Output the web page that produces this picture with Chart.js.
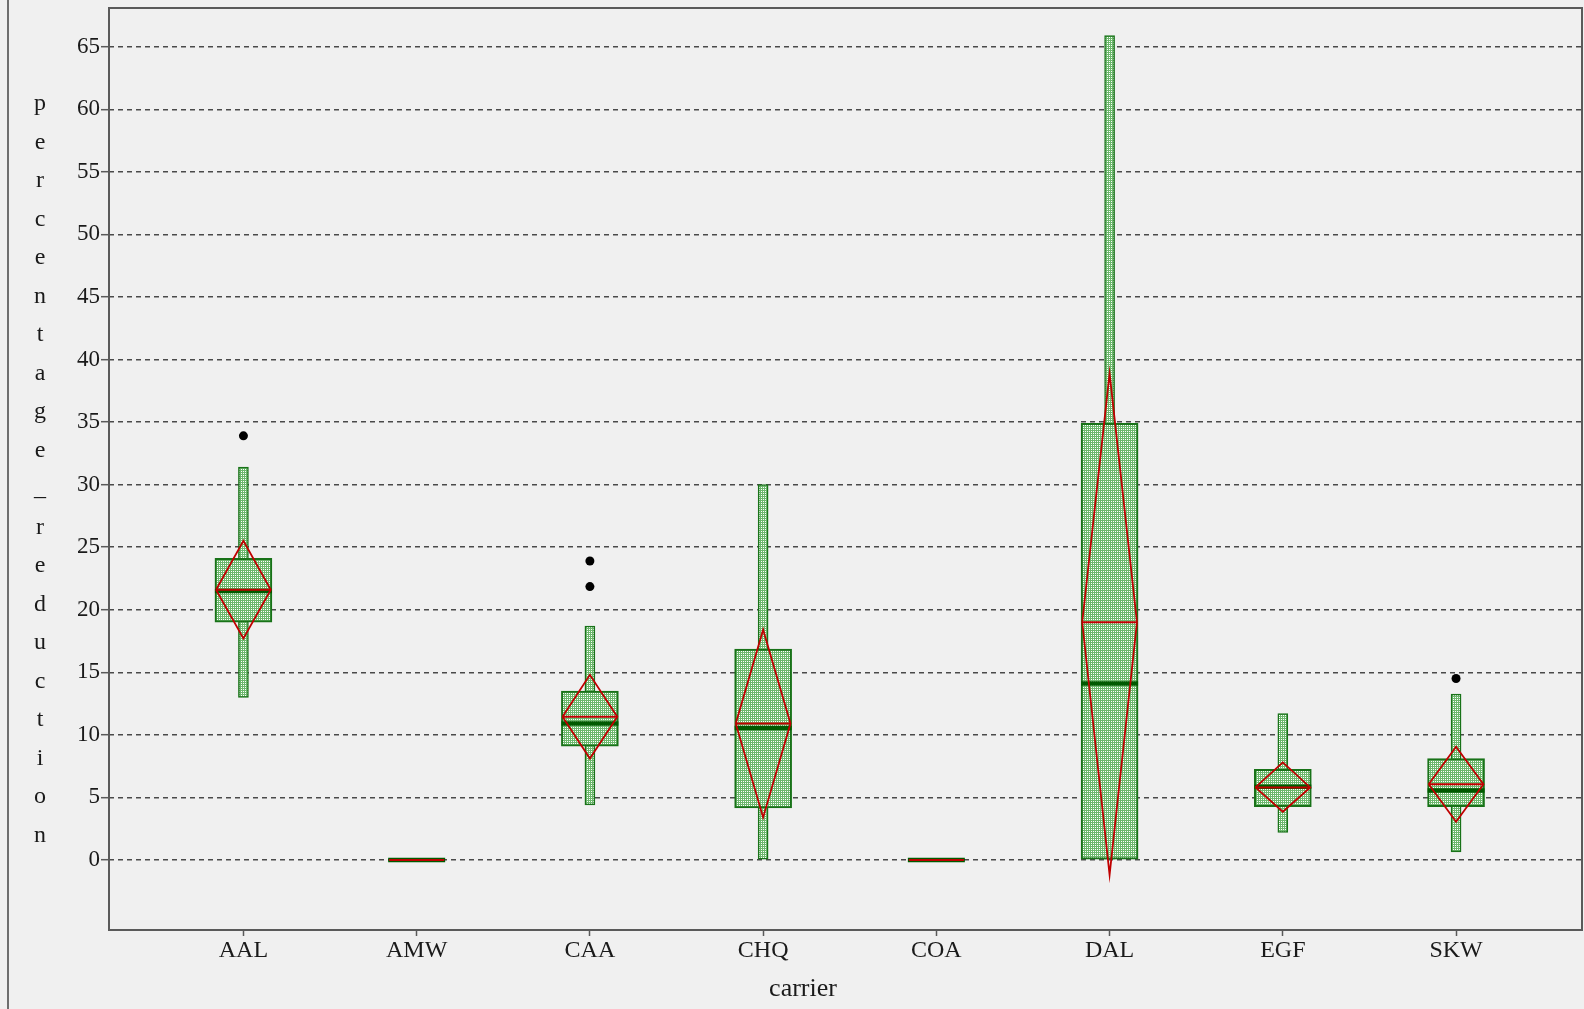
<!DOCTYPE html>
<html>
<head>
<meta charset="utf-8">
<title>percentage_reduction by carrier</title>
<script src="https://cdn.jsdelivr.net/npm/chart.js@4.4.1/dist/chart.umd.min.js"></script>
<style>
  html, body { margin: 0; padding: 0; background: #f0f0f0; }
  canvas { display: block; }
</style>
</head>
<body>
<canvas id="boxChart" width="1584" height="1009"></canvas>
<script>
// values
const carriers = ["AAL", "AMW", "CAA", "CHQ", "COA", "DAL", "EGF", "SKW"];
const whiskerLow = [13.0, 0, 4.4, 0, 0, 0, 2.2, 0.65];
const whiskerHigh = [31.4, 0, 18.7, 30.0, 0, 65.9, 11.7, 13.25];
const q1 = [19.0, 0, 9.1, 4.15, 0, 0, 4.25, 4.25];
const q3 = [24.1, 0, 13.5, 16.85, 0, 34.9, 7.25, 8.1];
const medians = [21.5, 0, 10.9, 10.55, 0, 14.1, 5.85, 5.55];
const means = [21.6, 0, 11.45, 10.9, 0, 19.0, 5.8, 6.05];
const ciLow = [17.7, 0, 8.1, 3.4, 0, -1.2, 3.85, 3.05];
const ciHigh = [25.5, 0, 14.8, 18.4, 0, 38.9, 7.8, 9.05];
const outlierCarrier = ["AAL", "CAA", "CAA", "SKW"];
const outlierValue = [33.9, 23.9, 21.85, 14.5];
const yTicks = [0, 5, 10, 15, 20, 25, 30, 35, 40, 45, 50, 55, 60, 65];
const yTitle = "percentage_reduction";
const xTitle = "carrier";

// styles
const colors = {
  bg: "#f0f0f0",
  frame: "#5a5a5a",
  grid: "#4a4a4a",
  text: "#1a1a1a",
  boxEdge: "#187218",
  median: "#005a00",
  mean: "#c00000",
  outlier: "#000000",
};
const fontFamily = "'Liberation Serif', 'DejaVu Serif', serif";
const diamondHalf = 0.158; // half width of the mean diamond, x units

Chart.defaults.font.family = fontFamily;
Chart.defaults.color = colors.text;

// small green grid texture used for boxes and whiskers
function makeHatch(line, cell) {
  const c = document.createElement("canvas");
  c.width = 2;
  c.height = 2;
  const g = c.getContext("2d");
  g.fillStyle = line;
  g.fillRect(0, 0, 2, 2);
  g.fillStyle = cell;
  g.fillRect(1, 1, 1, 1);
  return g.createPattern(c, "repeat");
}
const hatch = makeHatch("#6cb86c", "#ffffff");

const xOf = (name) => carriers.indexOf(name) + 1;

const whiskerData = carriers.map((c, i) => ({ x: i + 1, y: [whiskerLow[i], whiskerHigh[i]] }));
const boxData = carriers.map((c, i) => ({ x: i + 1, y: [q1[i], q3[i]] }));
const medianData = carriers.map((c, i) => ({ x: i + 1, y: medians[i] }));
const meanData = carriers.map((c, i) => ({ x: i + 1, y: means[i] }));
const outlierData = outlierCarrier.map((c, i) => ({ x: xOf(c), y: outlierValue[i] }));

// diamonds: one closed path per carrier, separated by gaps
const diamondData = [];
carriers.forEach((c, i) => {
  const x = i + 1;
  diamondData.push(
    { x: x - diamondHalf, y: means[i] },
    { x: x, y: ciHigh[i] },
    { x: x + diamondHalf, y: means[i] },
    { x: x, y: ciLow[i] },
    { x: x - diamondHalf, y: means[i] },
    { x: x, y: null }
  );
});

// background, outer frame, plot border and the two axis titles
const decorPlugin = {
  id: "decor",
  beforeDraw(chart) {
    const ctx = chart.ctx;
    ctx.save();
    ctx.fillStyle = colors.bg;
    ctx.fillRect(0, 0, chart.width, chart.height);
    ctx.strokeStyle = "#6e6e6e";
    ctx.lineWidth = 2;
    ctx.beginPath();
    ctx.moveTo(8, 0);
    ctx.lineTo(8, chart.height);
    ctx.stroke();
    ctx.restore();
  },
  afterDraw(chart) {
    const ctx = chart.ctx;
    const a = chart.chartArea;
    ctx.save();
    ctx.strokeStyle = colors.frame;
    ctx.lineWidth = 2;
    ctx.strokeRect(a.left, a.top, a.right - a.left, a.bottom - a.top);

    ctx.fillStyle = colors.text;
    ctx.font = "24px " + fontFamily;
    ctx.textAlign = "center";
    ctx.textBaseline = "middle";
    const letters = yTitle.split("");
    letters.forEach((ch, i) => {
      ctx.fillText(ch, 40, 104 + i * 38.5);
    });

    ctx.font = "26px " + fontFamily;
    ctx.textBaseline = "alphabetic";
    ctx.fillText(xTitle, 803, 996);
    ctx.restore();
  },
};

const ctx = document.getElementById("boxChart");

new Chart(ctx, {
  type: "bar",
  data: {
    datasets: [
      {
        type: "scatter",
        data: outlierData,
        pointRadius: 4.5,
        pointBackgroundColor: colors.outlier,
        pointBorderWidth: 0,
        order: 0,
      },
      {
        type: "scatter",
        data: meanData,
        pointStyle: "line",
        pointRadius: 27.5,
        pointBorderColor: colors.mean,
        pointBorderWidth: 2,
        order: 1,
      },
      {
        type: "line",
        data: diamondData,
        borderColor: colors.mean,
        borderWidth: 1.8,
        pointRadius: 0,
        spanGaps: false,
        fill: false,
        tension: 0,
        order: 2,
      },
      {
        type: "scatter",
        data: medianData,
        pointStyle: "line",
        pointRadius: 28.5,
        pointBorderColor: colors.median,
        pointBorderWidth: 4.5,
        order: 3,
      },
      {
        type: "bar",
        data: boxData,
        backgroundColor: hatch,
        borderColor: colors.boxEdge,
        borderWidth: 2,
        borderSkipped: false,
        barThickness: 57,
        grouped: false,
        order: 4,
      },
      {
        type: "bar",
        data: whiskerData,
        backgroundColor: hatch,
        borderColor: colors.boxEdge,
        borderWidth: 1.5,
        borderSkipped: false,
        barThickness: 10,
        grouped: false,
        order: 5,
      },
    ],
  },
  options: {
    responsive: false,
    animation: false,
    layout: {
      autoPadding: false,
      padding: { left: 0, top: 8, right: 2, bottom: 0 },
    },
    plugins: {
      legend: { display: false },
      tooltip: { enabled: false },
      title: { display: false },
    },
    scales: {
      x: {
        type: "linear",
        min: 0.224,
        max: 8.727,
        offset: false,
        afterBuildTicks(scale) {
          scale.ticks = carriers.map((c, i) => ({ value: i + 1 }));
        },
        afterFit(scale) {
          scale.height = 79;
          scale.paddingLeft = 0;
          scale.paddingRight = 0;
        },
        ticks: {
          autoSkip: false,
          maxRotation: 0,
          padding: 0,
          color: colors.text,
          font: { size: 24 },
          callback: (value) => carriers[Math.round(value) - 1] || "",
        },
        grid: {
          display: true,
          offset: false,
          drawOnChartArea: false,
          drawTicks: true,
          tickLength: 6,
          tickColor: colors.frame,
          tickWidth: 1.5,
        },
        border: { display: false },
      },
      y: {
        type: "linear",
        min: -5.6,
        max: 68.1,
        afterBuildTicks(scale) {
          scale.ticks = yTicks.map((v) => ({ value: v }));
        },
        afterFit(scale) {
          scale.width = 109;
          scale.paddingTop = 0;
          scale.paddingBottom = 0;
        },
        ticks: {
          padding: 1,
          color: colors.text,
          font: { size: 23 },
        },
        grid: {
          color: colors.grid,
          lineWidth: 1.4,
          drawTicks: true,
          tickLength: 8,
          tickColor: colors.frame,
          tickWidth: 1.5,
          tickBorderDash: [],
        },
        border: { display: false, dash: [5, 4] },
      },
    },
  },
  plugins: [decorPlugin],
});
</script>
</body>
</html>
